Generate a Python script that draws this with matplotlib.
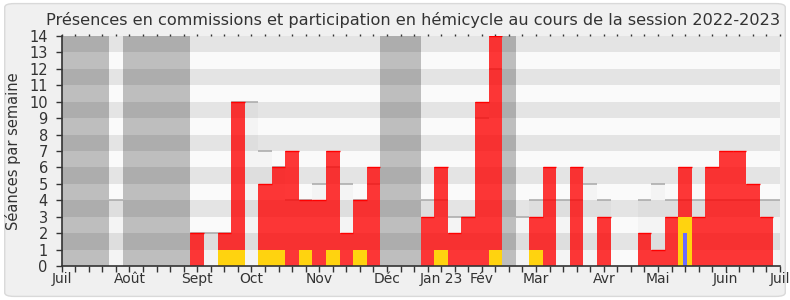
import numpy as np
import matplotlib
matplotlib.use("Agg")
import matplotlib.pyplot as plt
from matplotlib.patches import FancyBboxPatch

# Semaines de la session (0 = début juillet 2022, 53 = début juillet 2023)
semaines = np.arange(54)

# Présences en commission par semaine
presences = [0, 0, 0, 0, 0, 0, 0, 0, 0, 0,
             2, 0, 2, 10, 0, 5, 6, 7, 4, 4,
             7, 2, 4, 6, 0, 0, 0, 3, 6, 2,
             3, 10, 14, 0, 0, 3, 6, 0, 6, 0,
             3, 0, 0, 2, 1, 3, 6, 3, 6, 7,
             7, 5, 3, 0]

# Participations (interventions) par semaine
participations = [0, 0, 0, 0, 0, 0, 0, 0, 0, 0,
                  0, 0, 1, 1, 0, 1, 1, 0, 1, 0,
                  1, 0, 1, 0, 0, 0, 0, 0, 1, 0,
                  0, 0, 1, 0, 0, 1, 0, 0, 0, 0,
                  0, 0, 0, 0, 0, 0, 3, 0, 0, 0,
                  0, 0, 0, 0]

# Questions orales par semaine
questions = [0] * 46 + [2] + [0] * 7

# Médiane des présences de l'ensemble des députés
mediane = [0, 0, 0, 0, 4, 0, 0, 0, 0, 0,
           2, 2, 2, 10, 10, 7, 6, 4, 4, 5,
           6, 5, 4, 5, 0, 0, 0, 4, 4, 3,
           3, 9, 12, 0, 3, 4, 4, 4, 4, 5,
           4, 0, 0, 4, 5, 4, 4, 4, 4, 4,
           4, 4, 4, 4]

# Semaines de vacances parlementaires
vacances = [0, 1, 2, 3, 5, 6, 7, 8, 9, 24, 25, 26, 33]

mois_pos = [0, 5, 10, 14, 19, 24, 28, 31, 35, 40, 44, 49, 53]
mois_labels = ["Juil", "Août", "Sept", "Oct", "Nov", "Déc", "Jan 23", "Fév",
               "Mar", "Avr", "Mai", "Juin", "Juil"]

presences = np.array(presences)
participations = np.array(participations)
questions = np.array(questions)
mediane = np.array(mediane)

fig = plt.figure(figsize=(7.9, 3.0), dpi=100, facecolor="white")

# cadre arrondi du fond
cadre = FancyBboxPatch((0.006, 0.012), 0.988, 0.976,
                       boxstyle="round,pad=0,rounding_size=0.012",
                       transform=fig.transFigure, facecolor="#f0f0f0",
                       edgecolor="#d9d9d9", linewidth=1.0, zorder=-5)
fig.patches.append(cadre)

ax = fig.add_axes([0.0781, 0.1133, 0.9092, 0.7667])
ax.set_zorder(2)
ax.set_facecolor("#fafafa")

# bandes horizontales
for k in range(14):
    ax.axhspan(k, k + 1, color="#fafafa" if k % 2 == 0 else "#e4e4e4",
               lw=0, zorder=0)

# médiane : zone claire + trait gris
ax.bar(semaines, mediane, width=1, color=(0, 0, 0, 0.025), lw=0, zorder=1)
m = mediane > 0
ax.hlines(mediane[m], semaines[m] - 0.5, semaines[m] + 0.5,
          color="#a8a8a8", lw=1.1, zorder=1.5)

# vacances
ax.bar(vacances, [14] * len(vacances), width=1, color=(0, 0, 0, 0.24),
       lw=0, zorder=2)

# présences en commission
ax.bar(semaines, presences, width=1, color=(1, 0, 0, 0.78), lw=0, zorder=3)
p = presences > 0
ax.hlines(presences[p], semaines[p] - 0.5, semaines[p] + 0.5,
          color="#ff0000", lw=1.0, zorder=3.5)

# participations
ax.bar(semaines, participations, width=1, color="#ffd30f", lw=0, zorder=4)

# questions
ax.bar(semaines, questions, width=0.3, color="#6b6bff", lw=0, zorder=5)

ax.set_xlim(0, 53)
ax.set_ylim(0, 14)
ax.set_yticks(range(15))
ax.set_xticks(semaines, minor=True)
ax.set_xticks(mois_pos)
ax.set_xticklabels(mois_labels)

for s in ["top", "right"]:
    ax.spines[s].set_visible(False)
for s in ["left", "bottom"]:
    ax.spines[s].set_color("#333333")
    ax.spines[s].set_linewidth(1.2)
    ax.spines[s].set_zorder(6)

ax.tick_params(axis="x", which="both", direction="out", length=4, width=1,
               color="#333333", labelsize=10, labelcolor="#333333", pad=0.5)
ax.tick_params(axis="y", direction="out", length=4, width=1,
               color="#333333", labelsize=10.5, labelcolor="#333333", pad=6)

# petits repères en haut
top = ax.secondary_xaxis("top")
top.set_xticks(semaines)
top.tick_params(length=1.5, width=1, color="#333333", labeltop=False)
top.spines["top"].set_visible(False)

fig.text(0.5234, 0.933, "Présences en commissions et participation en hémicycle "
         "au cours de la session 2022-2023", ha="center", va="center",
         fontsize=11.6, color="#333333")
fig.text(0.017, 0.495, "Séances par semaine", rotation=90, ha="center",
         va="center", fontsize=10.5, color="#333333")

fig.savefig("out.png", dpi=100, facecolor=fig.get_facecolor())
